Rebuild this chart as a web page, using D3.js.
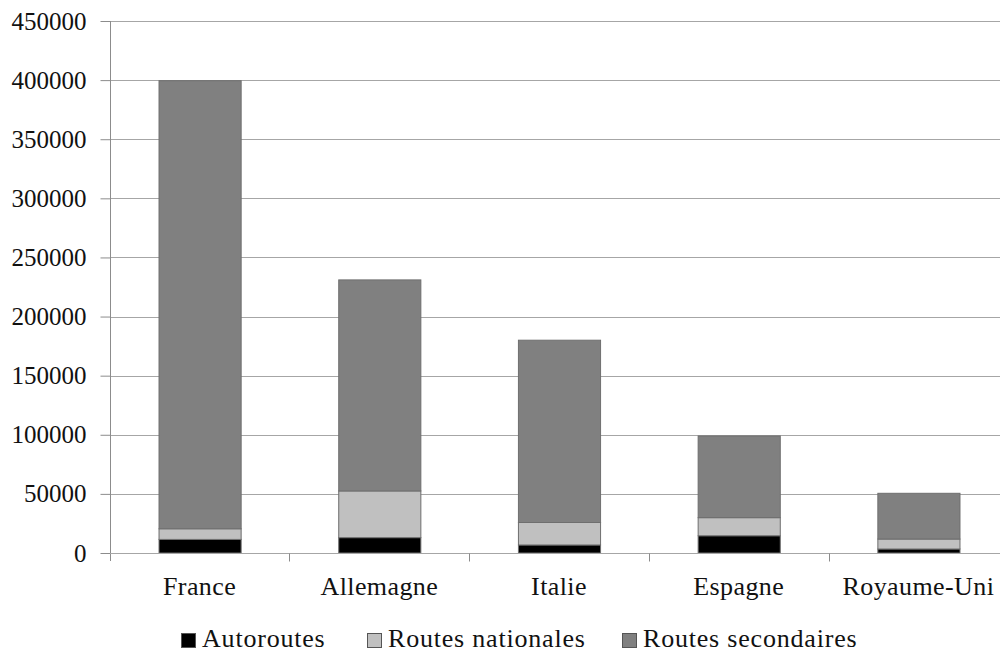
<!DOCTYPE html>
<html>
<head>
<meta charset="utf-8">
<script src="https://cdn.jsdelivr.net/npm/d3@7"></script>
<style>
  html, body { margin: 0; padding: 0; background: #fff; }
</style>
</head>
<body>
<svg id="chart" width="1000" height="653"></svg>
<script>
// Longueur du réseau routier par pays (km)
const pays = ["France", "Allemagne", "Italie", "Espagne", "Royaume-Uni"];
const autoroutes = [11500, 13000, 6800, 14600, 3400];
const routesNationales = [9000, 39500, 19000, 15300, 8400];
const routesSecondaires = [379000, 178500, 154200, 69100, 38700];
const yTicks = [0, 50000, 100000, 150000, 200000, 250000, 300000, 350000, 400000, 450000];

const series = [
  { name: "Autoroutes", values: autoroutes, color: "#000000" },
  { name: "Routes nationales", values: routesNationales, color: "#c0c0c0" },
  { name: "Routes secondaires", values: routesSecondaires, color: "#808080" }
];

const FONT = "'Liberation Serif', 'DejaVu Serif', serif";
const svg = d3.select("#chart");
const margin = { left: 110, right: -8, top: 21, bottom: 100 };
const width = 1000, height = 653;
const plotBottom = height - margin.bottom;

const x = d3.scaleBand().domain(pays).range([margin.left, width - margin.right]).paddingInner(0.543).paddingOuter(0.27);
const y = d3.scaleLinear().domain([0, 450000]).range([plotBottom, margin.top]);

// Grille horizontale
svg.append("g").selectAll("line").data(yTicks.filter(d => d > 0)).join("line")
  .attr("x1", margin.left).attr("x2", width)
  .attr("y1", d => Math.round(y(d)) + 0.5).attr("y2", d => Math.round(y(d)) + 0.5)
  .attr("stroke", "#a6a6a6").attr("stroke-width", 1);

// Barres empilées
const rows = pays.map((p, i) => {
  const r = { pays: p };
  series.forEach(s => r[s.name] = s.values[i]);
  return r;
});
const stack = d3.stack().keys(series.map(s => s.name))(rows);

svg.append("g").selectAll("g").data(stack).join("g")
  .attr("fill", (d, i) => series[i].color)
  .selectAll("rect").data(d => d).join("rect")
  .attr("x", d => x(d.data.pays) + 0.5)
  .attr("width", x.bandwidth())
  .attr("y", d => y(d[1]))
  .attr("height", d => y(d[0]) - y(d[1]))
  .attr("stroke", "#6e6e6e").attr("stroke-width", 1);

// Axe vertical
const yAxis = d3.axisLeft(y).tickValues(yTicks).tickSize(10).tickPadding(14).tickFormat(d3.format("d"));
const gy = svg.append("g").attr("transform", `translate(${margin.left + 0.5},0)`).call(yAxis);
gy.select(".domain").attr("d", `M0,${margin.top}V${plotBottom + 8}`).attr("stroke", "#8c8c8c");
gy.selectAll(".tick line").attr("stroke", "#8c8c8c");
gy.selectAll(".tick text").attr("font-size", 25).attr("font-family", FONT).attr("fill", "#111");

// Axe horizontal
const gx = svg.append("g").attr("transform", `translate(0,${Math.round(plotBottom) + 0.5})`);
gx.append("line").attr("x1", margin.left).attr("x2", width).attr("stroke", "#a6a6a6");
const step = x.step();
const bounds = d3.range(1, pays.length).map(i => x(pays[i]) - (step - x.bandwidth()) / 2);
gx.selectAll("line.sep").data(bounds).join("line").attr("class", "sep")
  .attr("x1", d => Math.round(d) + 0.5).attr("x2", d => Math.round(d) + 0.5)
  .attr("y1", 0).attr("y2", 8).attr("stroke", "#8c8c8c");
gx.selectAll("text").data(pays).join("text")
  .attr("x", d => x(d) + x.bandwidth() / 2)
  .attr("y", 41)
  .attr("text-anchor", "middle")
  .attr("font-family", FONT)
  .attr("font-size", 26)
  .attr("letter-spacing", 0.4)
  .attr("fill", "#111")
  .text(d => d);

// Légende
const legendX = [181, 367, 622];
const lg = svg.append("g");
series.forEach((s, i) => {
  lg.append("rect").attr("x", legendX[i] + 0.5).attr("y", 633.5).attr("width", 14).attr("height", 14)
    .attr("fill", s.color).attr("stroke", "#555").attr("stroke-width", 1);
  lg.append("text").attr("x", legendX[i] + 21).attr("y", 647)
    .attr("font-family", FONT).attr("font-size", 26).attr("letter-spacing", 0.8)
    .attr("fill", "#111").text(s.name);
});
</script>
</body>
</html>
